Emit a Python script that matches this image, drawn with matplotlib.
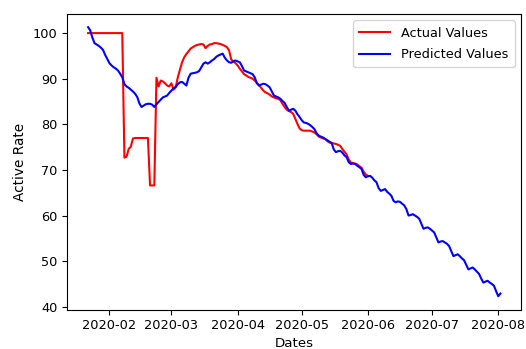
import pandas as pd
import matplotlib
matplotlib.use("Agg")
import matplotlib.pyplot as plt

# DATA (one value per day from 2020-01-22)
start_date = "2020-01-22"

actual_values = [
    100.0, 100.0, 100.0, 100.0, 100.0, 100.0, 100.0, 100.0, 100.0, 100.0,
    100.0, 100.0, 100.0, 100.0, 100.0, 100.0, 100.0, 72.7, 72.9, 74.6,
    75.1, 76.9, 77.0, 77.0, 77.0, 77.0, 77.0, 77.0, 77.0, 66.6,
    66.6, 66.6, 90.2, 88.3, 89.6, 89.4, 89.0, 88.5, 88.3, 89.0,
    87.6, 88.1, 90.3, 92.0, 93.6, 94.7, 95.4, 96.0, 96.6, 96.9,
    97.2, 97.4, 97.5, 97.6, 97.5, 96.7, 97.2, 97.5, 97.6, 97.8,
    97.8, 97.7, 97.6, 97.4, 97.2, 96.9, 96.2, 94.2, 93.8, 93.4,
    92.9, 92.2, 91.6, 91.0, 90.7, 90.4, 90.2, 90.0, 89.6, 89.1,
    88.6, 88.0, 87.4, 87.0, 86.8, 86.5, 86.1, 85.9, 85.7, 85.6,
    85.3, 84.5, 83.8, 83.2, 82.9, 82.7, 82.3, 81.2, 80.1, 79.1,
    78.7, 78.6, 78.6, 78.6, 78.6, 78.4, 78.2, 77.8, 77.3, 77.1,
    76.9, 76.8, 76.3, 76.0, 75.9, 75.8, 75.7, 75.5, 75.3, 74.6,
    74.0, 73.4, 72.3, 71.6, 71.5, 71.4, 71.2, 70.8, 70.5, 69.6,
    69.0, 68.7,
]

predicted_values = [
    101.3, 100.6, 99.0, 97.8, 97.5, 97.2, 96.8, 96.3, 95.2, 94.3,
    93.4, 92.9, 92.5, 92.2, 91.8, 91.1, 90.3, 88.8, 88.3, 88.0,
    87.6, 87.2, 86.7, 86.0, 84.6, 83.8, 84.1, 84.4, 84.5, 84.5,
    84.3, 83.8, 84.4, 84.9, 85.4, 85.9, 86.1, 86.3, 86.9, 87.4,
    87.9, 88.2, 88.8, 89.2, 89.3, 88.9, 88.5, 90.2, 91.1, 91.2,
    91.3, 91.4, 91.7, 92.5, 93.3, 93.6, 93.3, 93.6, 94.0, 94.3,
    94.8, 95.1, 95.3, 95.5, 94.6, 94.0, 93.6, 93.5, 93.8, 94.0,
    93.8, 93.6, 92.8, 91.8, 91.6, 91.4, 91.2, 91.0, 90.3, 89.0,
    88.5, 88.7, 88.9, 88.8, 88.5, 88.1, 87.2, 86.3, 86.1, 85.9,
    85.6, 85.1, 84.7, 83.8, 83.0, 83.2, 83.4, 83.0, 82.2, 81.6,
    80.9, 80.4, 80.3, 80.1, 79.8, 79.4, 78.9, 78.0, 77.5, 77.3,
    77.1, 76.8, 76.5, 76.2, 75.9, 74.5, 73.9, 74.1, 74.2, 73.8,
    73.2, 72.8, 71.7, 71.3, 71.4, 71.3, 70.9, 70.6, 70.2, 68.9,
    68.4, 68.6, 68.7, 68.3, 67.7, 67.3, 66.0, 65.4, 65.6, 65.8,
    65.2, 64.8, 64.3, 63.2, 62.9, 63.1, 63.0, 62.6, 62.2, 61.4,
    60.0, 60.1, 60.3, 60.0, 59.7, 59.3, 58.2, 57.1, 57.3, 57.4,
    57.1, 56.7, 56.3, 55.2, 54.1, 54.3, 54.4, 54.1, 53.8, 53.3,
    52.2, 51.1, 51.3, 51.5, 51.1, 50.6, 50.2, 49.2, 48.2, 48.4,
    48.6, 48.2, 47.7, 47.2, 46.2, 45.3, 45.5, 45.7, 45.3, 45.0,
    44.6, 43.4, 42.3, 42.9,
]

dates = pd.date_range(start=start_date, periods=len(predicted_values), freq="D")
actual_dates = dates[:len(actual_values)]

plt.rcParams["font.size"] = 9.3

fig = plt.figure(figsize=(5.26, 3.49), dpi=100)
ax = fig.add_axes([0.1283, 0.1126, 0.8622, 0.8481])

ax.plot(actual_dates, actual_values, color="red", linewidth=1.5, label="Actual Values")
ax.plot(dates, predicted_values, color="blue", linewidth=1.5, label="Predicted Values")

ax.set_xlabel("Dates", fontsize=9.6, labelpad=3)
ax.set_ylabel("Active Rate", fontsize=9.8)
ax.legend(loc="upper right", handlelength=2.4, labelspacing=0.65, borderpad=0.5)

fig.savefig("out.png", dpi=100)
